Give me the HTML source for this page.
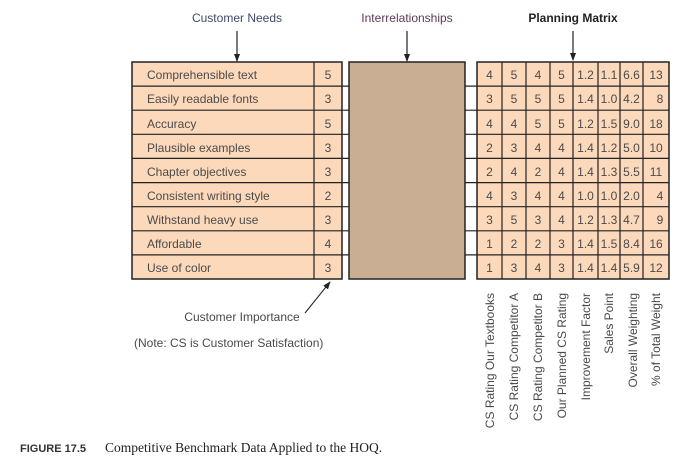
<!DOCTYPE html>
<html><head><meta charset="utf-8"><style>
html,body{margin:0;padding:0;background:#fff;width:686px;height:463px;overflow:hidden}
svg{display:block}
text{font-family:"Liberation Sans",Arial,sans-serif;font-size:12px;fill:#4a4a4a}
</style></head><body>
<svg width="686" height="463" viewBox="0 0 686 463" xmlns="http://www.w3.org/2000/svg">
<defs><marker id="ah" markerWidth="8" markerHeight="8" refX="7" refY="4" orient="auto" markerUnits="userSpaceOnUse"><path d="M0,1 L8,4 L0,7 Z" fill="#222"/></marker></defs>
<text x="237" y="22" text-anchor="middle" fill="#3f4a6a" style="fill:#3f4a6a">Customer Needs</text>
<text x="407" y="22" text-anchor="middle" style="fill:#5a3a5a">Interrelationships</text>
<text x="573" y="22" text-anchor="middle" font-weight="bold" style="fill:#222">Planning Matrix</text>
<line x1="237" y1="31" x2="237" y2="61" stroke="#222" stroke-width="1.2" marker-end="url(#ah)"/>
<line x1="407" y1="31" x2="407" y2="61" stroke="#222" stroke-width="1.2" marker-end="url(#ah)"/>
<line x1="573" y1="31" x2="573" y2="60" stroke="#222" stroke-width="1.2" marker-end="url(#ah)"/>
<rect x="132" y="62" width="210" height="217" fill="#fdd9bb"/>
<rect x="477" y="62" width="192" height="217" fill="#fdd9bb"/>
<g stroke="#222" stroke-width="1.2">
<line x1="132" y1="86.1" x2="669" y2="86.1"/><line x1="132" y1="110.2" x2="669" y2="110.2"/>
<line x1="132" y1="134.3" x2="669" y2="134.3"/><line x1="132" y1="158.4" x2="669" y2="158.4"/>
<line x1="132" y1="182.6" x2="669" y2="182.6"/><line x1="132" y1="206.7" x2="669" y2="206.7"/>
<line x1="132" y1="230.8" x2="669" y2="230.8"/><line x1="132" y1="254.9" x2="669" y2="254.9"/>
<line x1="314" y1="62" x2="314" y2="279"/>
<line x1="502" y1="62" x2="502" y2="279"/><line x1="526" y1="62" x2="526" y2="279"/>
<line x1="550" y1="62" x2="550" y2="279"/><line x1="573" y1="62" x2="573" y2="279"/>
<line x1="598" y1="62" x2="598" y2="279"/><line x1="620" y1="62" x2="620" y2="279"/>
<line x1="643" y1="62" x2="643" y2="279"/>
</g>
<rect x="132" y="62" width="210" height="217" fill="none" stroke="#222" stroke-width="1.5"/>
<rect x="477" y="62" width="192" height="217" fill="none" stroke="#222" stroke-width="1.5"/>
<rect x="349" y="62" width="116" height="217" fill="#c9ae93" stroke="#222" stroke-width="1.5"/>
<g>
<text x="147" y="79">Comprehensible text</text><text x="328" y="79" text-anchor="middle">5</text>
<text x="147" y="103">Easily readable fonts</text><text x="328" y="103" text-anchor="middle">3</text>
<text x="147" y="128">Accuracy</text><text x="328" y="128" text-anchor="middle">5</text>
<text x="147" y="152">Plausible examples</text><text x="328" y="152" text-anchor="middle">3</text>
<text x="147" y="176">Chapter objectives</text><text x="328" y="176" text-anchor="middle">3</text>
<text x="147" y="200">Consistent writing style</text><text x="328" y="200" text-anchor="middle">2</text>
<text x="147" y="224">Withstand heavy use</text><text x="328" y="224" text-anchor="middle">3</text>
<text x="147" y="248">Affordable</text><text x="328" y="248" text-anchor="middle">4</text>
<text x="147" y="272">Use of color</text><text x="328" y="272" text-anchor="middle">3</text>
</g>
<g text-anchor="middle">
<text y="79"><tspan x="489.5">4</tspan><tspan x="514">5</tspan><tspan x="538">4</tspan><tspan x="561.5">5</tspan><tspan x="585.5">1.2</tspan><tspan x="609">1.1</tspan><tspan x="631.5">6.6</tspan><tspan x="656">13</tspan></text>
<text y="103"><tspan x="489.5">3</tspan><tspan x="514">5</tspan><tspan x="538">5</tspan><tspan x="561.5">5</tspan><tspan x="585.5">1.4</tspan><tspan x="609">1.0</tspan><tspan x="631.5">4.2</tspan><tspan x="660">8</tspan></text>
<text y="128"><tspan x="489.5">4</tspan><tspan x="514">4</tspan><tspan x="538">5</tspan><tspan x="561.5">5</tspan><tspan x="585.5">1.2</tspan><tspan x="609">1.5</tspan><tspan x="631.5">9.0</tspan><tspan x="656">18</tspan></text>
<text y="152"><tspan x="489.5">2</tspan><tspan x="514">3</tspan><tspan x="538">4</tspan><tspan x="561.5">4</tspan><tspan x="585.5">1.4</tspan><tspan x="609">1.2</tspan><tspan x="631.5">5.0</tspan><tspan x="656">10</tspan></text>
<text y="176"><tspan x="489.5">2</tspan><tspan x="514">4</tspan><tspan x="538">2</tspan><tspan x="561.5">4</tspan><tspan x="585.5">1.4</tspan><tspan x="609">1.3</tspan><tspan x="631.5">5.5</tspan><tspan x="656">11</tspan></text>
<text y="200"><tspan x="489.5">4</tspan><tspan x="514">3</tspan><tspan x="538">4</tspan><tspan x="561.5">4</tspan><tspan x="585.5">1.0</tspan><tspan x="609">1.0</tspan><tspan x="631.5">2.0</tspan><tspan x="660">4</tspan></text>
<text y="224"><tspan x="489.5">3</tspan><tspan x="514">5</tspan><tspan x="538">3</tspan><tspan x="561.5">4</tspan><tspan x="585.5">1.2</tspan><tspan x="609">1.3</tspan><tspan x="631.5">4.7</tspan><tspan x="660">9</tspan></text>
<text y="248"><tspan x="489.5">1</tspan><tspan x="514">2</tspan><tspan x="538">2</tspan><tspan x="561.5">3</tspan><tspan x="585.5">1.4</tspan><tspan x="609">1.5</tspan><tspan x="631.5">8.4</tspan><tspan x="656">16</tspan></text>
<text y="272"><tspan x="489.5">1</tspan><tspan x="514">3</tspan><tspan x="538">4</tspan><tspan x="561.5">3</tspan><tspan x="585.5">1.4</tspan><tspan x="609">1.4</tspan><tspan x="631.5">5.9</tspan><tspan x="656">12</tspan></text>
</g>
<g text-anchor="end">
<text transform="translate(494,293) rotate(-90)">CS Rating Our Textbooks</text>
<text transform="translate(518,293) rotate(-90)">CS Rating Competitor A</text>
<text transform="translate(542,293) rotate(-90)">CS Rating Competitor B</text>
<text transform="translate(566,293) rotate(-90)">Our Planned CS Rating</text>
<text transform="translate(590,293) rotate(-90)">Improvement Factor</text>
<text transform="translate(613,293) rotate(-90)">Sales Point</text>
<text transform="translate(637,293) rotate(-90)">Overall Weighting</text>
<text transform="translate(660,293) rotate(-90)">% of Total Weight</text>
</g>
<line x1="305" y1="313" x2="330" y2="282" stroke="#222" stroke-width="1" marker-end="url(#ah)"/>
<text x="242" y="321" text-anchor="middle">Customer Importance</text>
<text x="134" y="347">(Note: CS is Customer Satisfaction)</text>
<text x="20" y="452" style="font-size:11px;font-weight:bold;fill:#333">FIGURE 17.5</text>
<text x="105" y="452" style="font-family:'Liberation Serif',serif;font-size:13.5px;fill:#222">Competitive Benchmark Data Applied to the HOQ.</text>
</svg>
</body></html>
